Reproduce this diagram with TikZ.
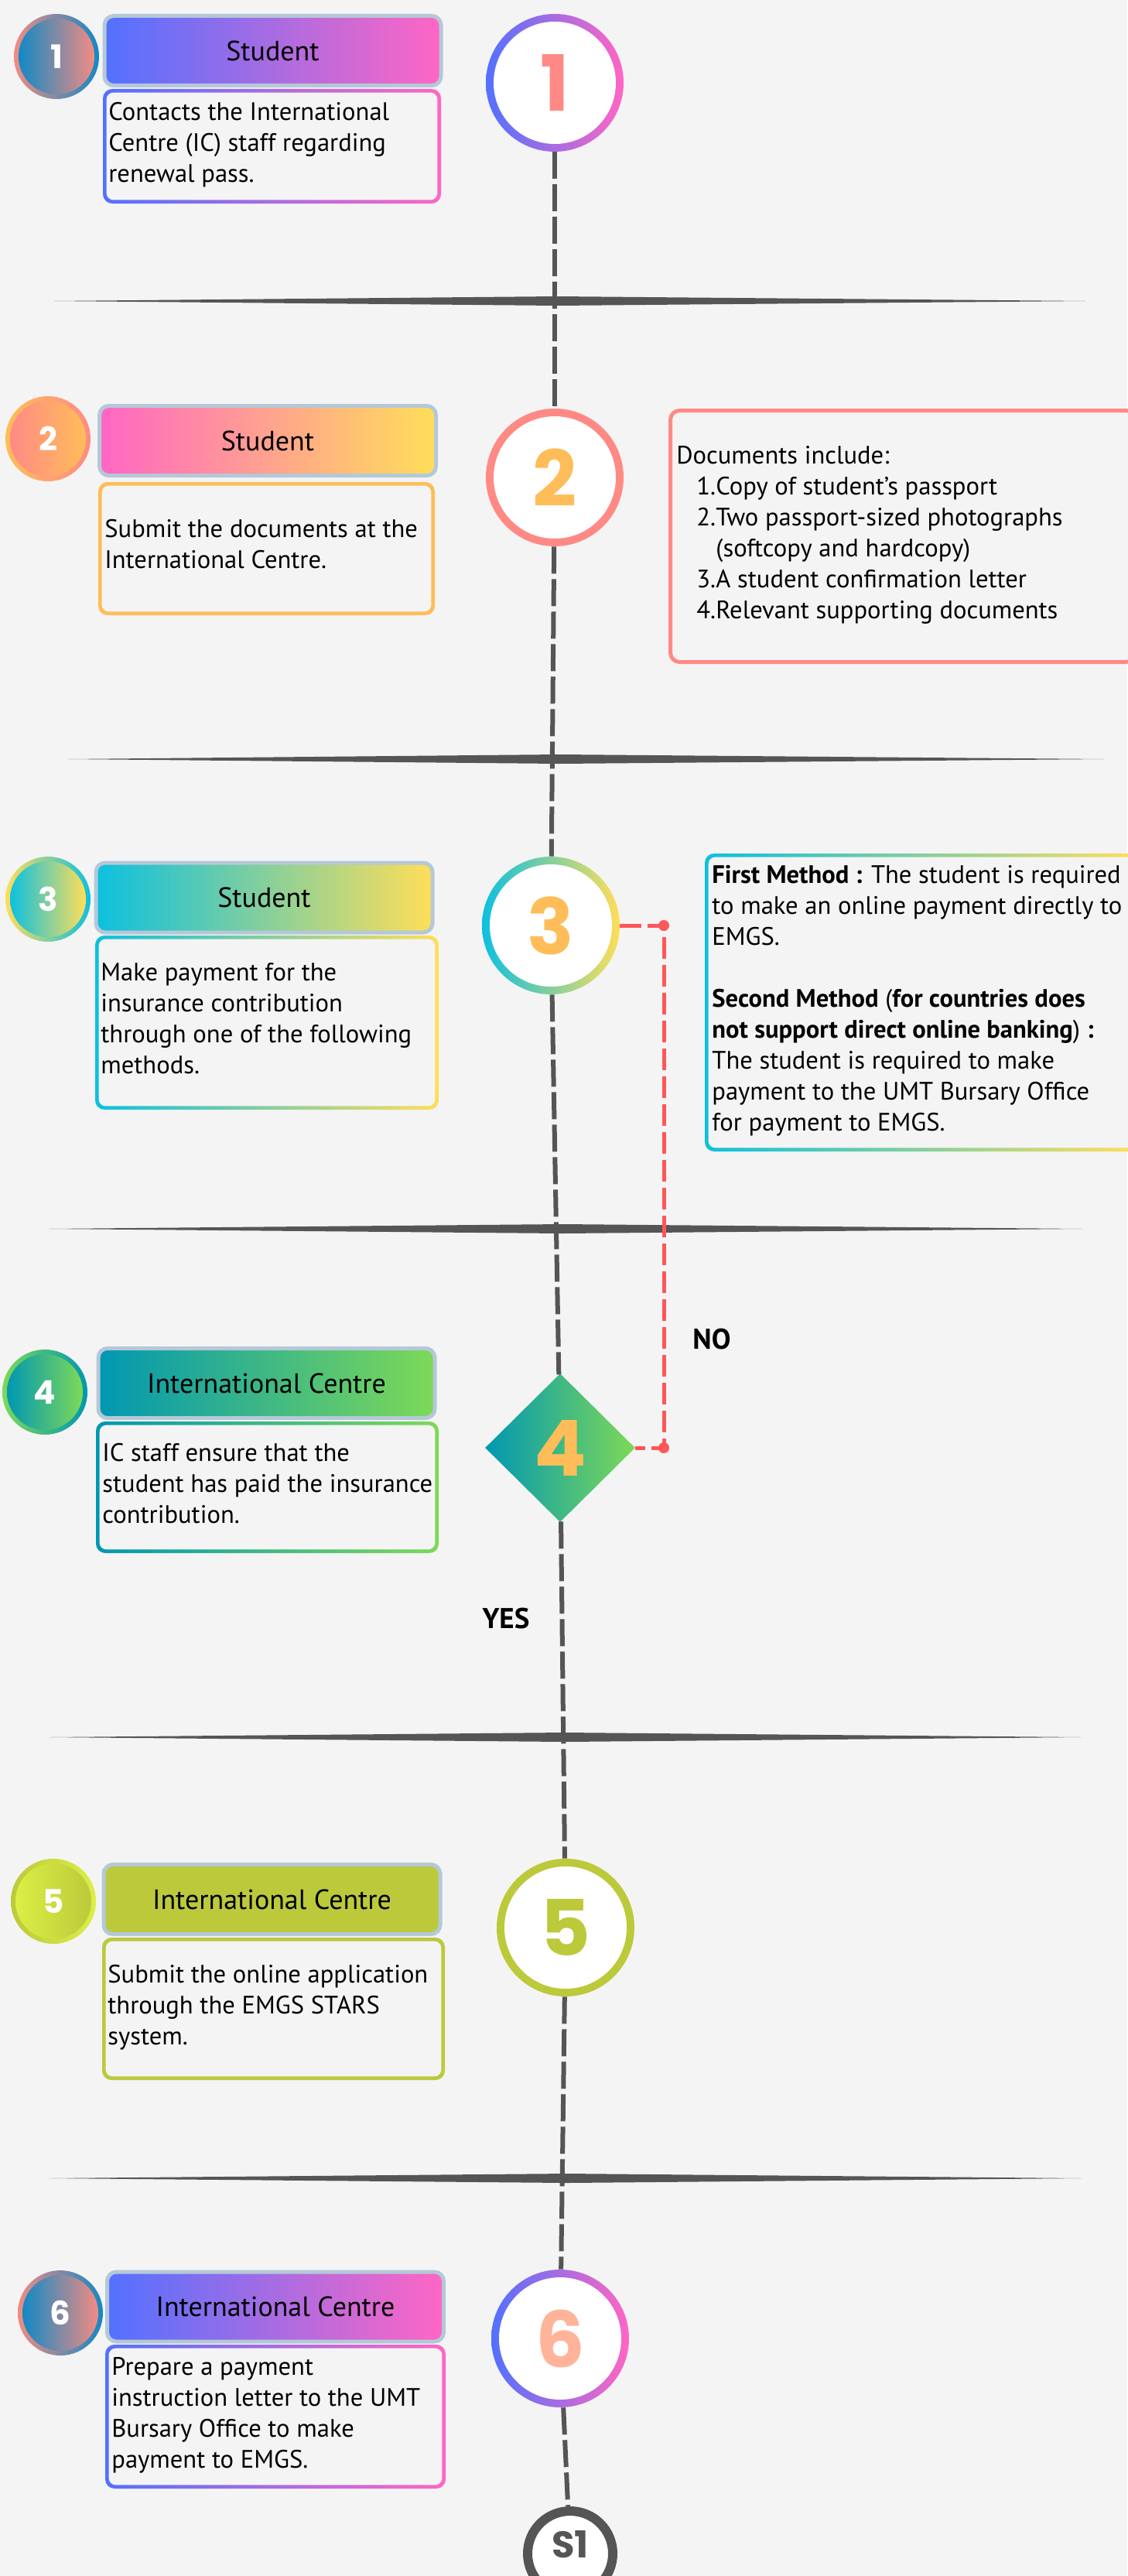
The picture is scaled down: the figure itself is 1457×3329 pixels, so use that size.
\documentclass[tikz,border=0pt]{standalone}
\usepackage{fontspec}
\setmainfont{PT Sans}
\newfontfamily\numfont{Poppins}
\usetikzlibrary{shapes.geometric,calc}
\definecolor{bg}{HTML}{F4F4F4}
\definecolor{linegray}{HTML}{555555}
\definecolor{blueA}{HTML}{5271FF}
\definecolor{pinkA}{HTML}{FF66C4}
\definecolor{hdrborder}{HTML}{B4C8D8}
\definecolor{tealblue}{HTML}{1189C5}
\definecolor{salmon}{HTML}{F28B82}
\definecolor{yellowA}{HTML}{FFDE59}
\definecolor{orangeA}{HTML}{FFBD59}
\definecolor{coral}{HTML}{FF8A85}
\definecolor{cyanA}{HTML}{0CC0DF}
\definecolor{tealA}{HTML}{0097B2}
\definecolor{greenA}{HTML}{7ED957}
\definecolor{limeA}{HTML}{BCC93B}
\definecolor{limeB}{HTML}{DBEF45}
\definecolor{peach}{HTML}{FFB49A}
\definecolor{redA}{HTML}{FF5757}
\tikzset{
  hdr/.style={draw=hdrborder, line width=2.5pt, rounded corners=6pt, inner sep=0pt,
    minimum width=217.5pt, minimum height=45pt, font=\fontsize{18}{21}\selectfont},
  bodybox/.style={rounded corners=6pt, inner sep=0pt},
  bodytext/.style={anchor=north west, inner sep=0pt, align=left, font=\fontsize{16.3}{20}\selectfont},
  smallc/.style={circle, inner sep=0pt, minimum size=55pt},
  smallnum/.style={text=white, font=\numfont\bfseries\fontsize{21}{21}\selectfont, inner sep=0pt},
  bigc/.style={circle, inner sep=0pt, minimum size=89pt},
  bignum/.style={font=\numfont\bfseries\fontsize{50}{50}\selectfont, inner sep=0pt},
  mainline/.style={draw=linegray, line width=3pt, dash pattern=on 17.5pt off 3.5pt},
  redline/.style={draw=redA, line width=2.5pt, dash pattern=on 14pt off 4pt},
  sep/.style={fill=linegray},
  lbl/.style={font=\bfseries\fontsize{18.5}{20}\selectfont, inner sep=0pt}
}
\begin{document}
\begin{tikzpicture}[x=0.5pt,y=-0.5pt]
\useasboundingbox (0,0) rectangle (1457,3329);
\fill[bg] (0,0) rectangle (1457,3329);

% separators
\fill[sep] (70,389) -- (720,383) -- (1403,389) -- (720,395) -- cycle;
\fill[sep] (88,981) -- (723,975) -- (1427,981) -- (723,987) -- cycle;
\fill[sep] (63,1588) -- (727,1582) -- (1399,1588) -- (727,1594) -- cycle;
\fill[sep] (63,2245) -- (730,2239) -- (1399,2245) -- (730,2251) -- cycle;
\fill[sep] (63,2815) -- (733,2809) -- (1399,2815) -- (733,2821) -- cycle;

% ---------- big circles / diamond ----------
\node[bigc, left color=blueA, right color=pinkA] (C1) at (717,107) {};
\fill[white] (C1.center) circle (39.5pt);
\node[bignum, text=coral] (N1) at (C1.center) {1};

\node[bigc, fill=coral] (C2) at (717,617) {};
\fill[white] (C2.center) circle (39.5pt);
\node[bignum, text=orangeA] (N2) at (C2.center) {2};

\node[bigc, left color=cyanA, right color=yellowA] (C3) at (712,1196) {};
\fill[white] (C3.center) circle (39.5pt);
\node[bignum, text=orangeA] (N3) at (C3.center) {3};

\node[diamond, inner sep=0pt, minimum width=97pt, minimum height=96pt, left color=tealA, right color=greenA] (D4) at (724,1871) {};
\node[bignum, text=orangeA] (N4) at (D4.center) {4};

\node[bigc, fill=limeA] (C5) at (731,2491) {};
\fill[white] (C5.center) circle (39.5pt);
\node[bignum, text=limeA] (N5) at (C5.center) {5};

\node[bigc, left color=blueA, right color=pinkA] (C6) at (724,3022) {};
\fill[white] (C6.center) circle (39.5pt);
\node[bignum, text=peach] (N6) at (C6.center) {6};

\node[circle, draw=linegray, line width=6pt, fill=white, inner sep=0pt, minimum size=55pt] (S1) at (737,3300) {};
\node[text=linegray, inner sep=0pt, font=\numfont\bfseries\fontsize{24}{24}\selectfont] (S1t) at (737,3288) {S1};

% central dashed line
\draw[mainline] (C1) -- (C2);
\draw[mainline] (C2) -- (C3);
\draw[mainline] (C3) -- (D4);
\draw[mainline] (D4) -- (C5);
\draw[mainline] (C5) -- (C6);
\draw[mainline] (C6) -- (S1);

% red loop
\coordinate (R2) at (858,1871);
\coordinate (R1) at (C3.east -| R2);
\draw[redline] (C3.east) -- (R1) -- (R2) -- (D4.east);
\fill[redA] (R1) circle (3.5pt);
\fill[redA] (R2) circle (3.5pt);
\node[lbl] (NO) at (920,1731) {NO};
\node[lbl] (YES) at (654,2092) {YES};

% ---------- small circles ----------
\node[smallc, left color=salmon, right color=tealblue] (s1) at (73,73) {};
\shade[left color=tealblue, right color=salmon] (s1.center) circle (24.5pt);
\node[smallnum] (sn1) at (s1.center) {1};

\node[smallc, left color=orangeA, right color=coral] (s2) at (62,567) {};
\shade[left color=coral, right color=orangeA] (s2.center) circle (24.5pt);
\node[smallnum] (sn2) at (s2.center) {2};

\node[smallc, left color=yellowA, right color=cyanA] (s3) at (62,1162) {};
\shade[left color=cyanA, right color=yellowA] (s3.center) circle (24.5pt);
\node[smallnum] (sn3) at (s3.center) {3};

\node[smallc, left color=greenA, right color=tealA] (s4) at (58,1799) {};
\shade[left color=tealA, right color=greenA] (s4.center) circle (24.5pt);
\node[smallnum] (sn4) at (s4.center) {4};

\node[smallc, left color=limeA, right color=limeB] (s5) at (69,2457) {};
\shade[left color=limeB, right color=limeA] (s5.center) circle (24.5pt);
\node[smallnum] (sn5) at (s5.center) {5};

\node[smallc, left color=salmon, right color=tealblue] (s6) at (78,2989) {};
\shade[left color=tealblue, right color=salmon] (s6.center) circle (24.5pt);
\node[smallnum] (sn6) at (s6.center) {6};

% ---------- headers ----------
\node[hdr, left color=blueA, right color=pinkA] (h1) at (352.5,65.5) {Student};
\node[hdr, left color=pinkA, right color=yellowA] (h2) at (346,569.5) {Student};
\node[hdr, left color=cyanA, right color=yellowA] (h3) at (341.5,1160) {Student};
\node[hdr, left color=tealA, right color=greenA] (h4) at (344.5,1787.5) {International Centre};
\node[hdr, fill=limeA] (h5) at (351.5,2454.5) {International Centre};
\node[hdr, left color=blueA, right color=pinkA] (h6) at (356,2981) {International Centre};

% ---------- body boxes ----------
\node[bodybox, minimum width=218.5pt, minimum height=74pt, left color=blueA, right color=pinkA] (b1) at (351.5,189) {};
\fill[bg, rounded corners=4.5pt] ($(b1.south west)+(5,-5)$) rectangle ($(b1.north east)+(-5,5)$);
\node[bodybox, minimum width=217.5pt, minimum height=86pt, fill=orangeA] (b2) at (344.5,709) {};
\fill[bg, rounded corners=4.5pt] ($(b2.south west)+(5,-5)$) rectangle ($(b2.north east)+(-5,5)$);
\node[bodybox, minimum width=222pt, minimum height=112.5pt, left color=cyanA, right color=yellowA] (b3) at (345,1321.5) {};
\fill[bg, rounded corners=4.5pt] ($(b3.south west)+(5,-5)$) rectangle ($(b3.north east)+(-5,5)$);
\node[bodybox, minimum width=221.5pt, minimum height=85pt, left color=tealA, right color=greenA] (b4) at (345.5,1922) {};
\fill[bg, rounded corners=4.5pt] ($(b4.south west)+(5,-5)$) rectangle ($(b4.north east)+(-5,5)$);
\node[bodybox, minimum width=221.5pt, minimum height=92pt, fill=limeA] (b5) at (353.5,2596) {};
\fill[bg, rounded corners=4.5pt] ($(b5.south west)+(5,-5)$) rectangle ($(b5.north east)+(-5,5)$);
\node[bodybox, minimum width=220pt, minimum height=93pt, left color=blueA, right color=pinkA] (b6) at (356,3123) {};
\fill[bg, rounded corners=4.5pt] ($(b6.south west)+(5,-5)$) rectangle ($(b6.north east)+(-5,5)$);

% side boxes
\node[bodybox, draw=coral, line width=2.5pt, minimum width=300.5pt, minimum height=162.5pt, fill=bg] (DB) at (1167,693) {};
\node[bodybox, minimum width=279.5pt, minimum height=192.5pt, left color=cyanA, right color=yellowA] (MB) at (1190.5,1295.5) {};
\fill[bg, rounded corners=4.5pt] ($(MB.south west)+(5,-5)$) rectangle ($(MB.north east)+(-5,5)$);

% ---------- texts ----------
\node[bodytext] (t1) at (140,132) {Contacts the International\\Centre (IC) staff regarding\\renewal pass.};
\node[bodytext] (t2) at (135,671) {Submit the documents at the\\International Centre.};
\node[bodytext] (t3) at (130,1244) {Make payment for the\\insurance contribution\\through one of the following\\methods.};
\node[bodytext] (t4) at (132,1865) {IC staff ensure that the\\student has paid the insurance\\contribution.};
\node[bodytext] (t5) at (139,2539) {Submit the online application\\through the EMGS STARS\\system.};
\node[bodytext] (t6) at (144,3046) {Prepare a payment\\instruction letter to the UMT\\Bursary Office to make\\payment to EMGS.};
\node[bodytext] (td) at (874,576) {Documents include:\\
\hspace*{13pt}\makebox[12.5pt][l]{1.}Copy of student’s passport\\
\hspace*{13pt}\makebox[12.5pt][l]{2.}Two passport-sized photographs\\
\hspace*{25.5pt}(softcopy and hardcopy)\\
\hspace*{13pt}\makebox[12.5pt][l]{3.}A student confirmation letter\\
\hspace*{13pt}\makebox[12.5pt][l]{4.}Relevant supporting documents};
\node[bodytext] (tm) at (920,1118) {\textbf{First Method :} The student is required\\
to make an online payment directly to\\
EMGS.\\[20pt]
\textbf{Second Method} (\textbf{for countries does}\\
\textbf{not support direct online banking}) \textbf{:}\\
The student is required to make\\
payment to the UMT Bursary Office\\
for payment to EMGS.};
\end{tikzpicture}
\end{document}
